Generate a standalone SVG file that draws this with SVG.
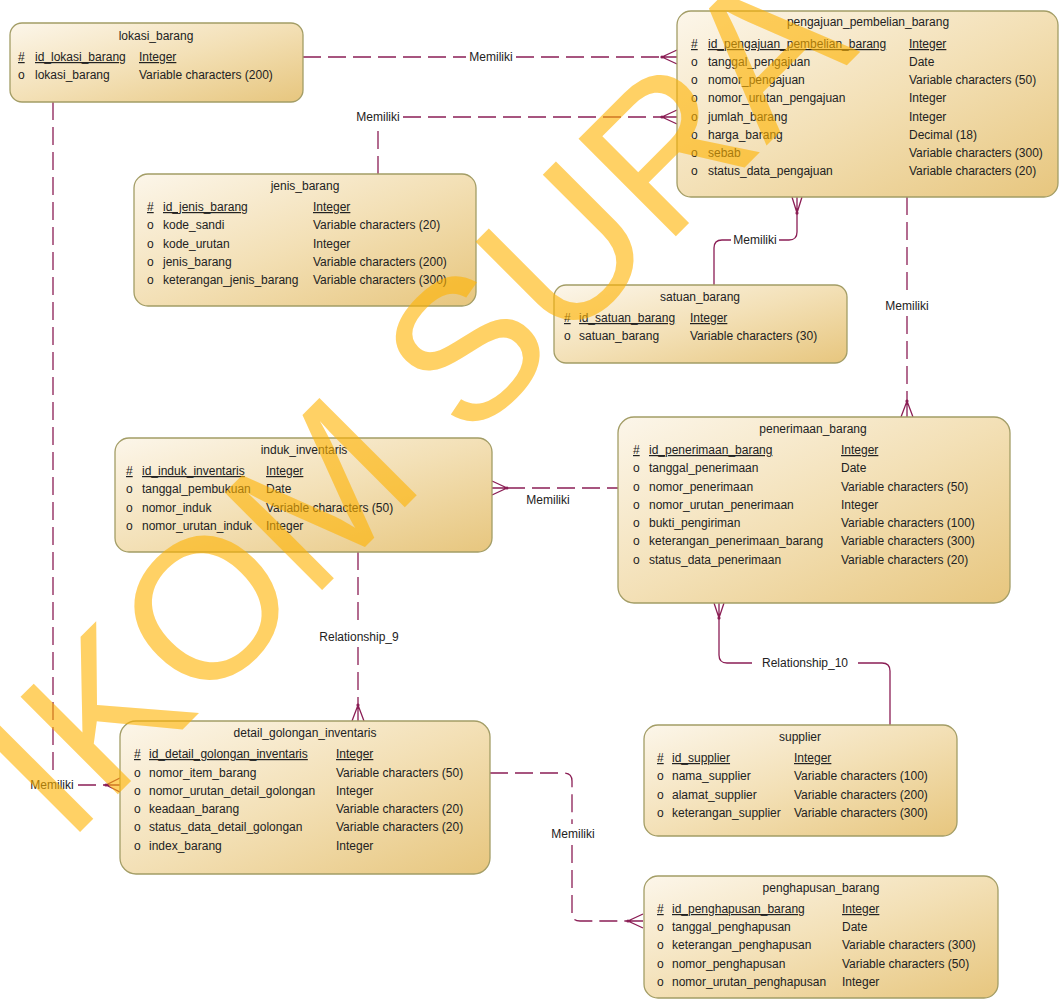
<svg xmlns="http://www.w3.org/2000/svg" width="1060" height="1000" viewBox="0 0 1060 1000">
<defs>
<linearGradient id="g" x1="0" y1="0" x2="1" y2="1">
<stop offset="0" stop-color="#FCF6EA"/>
<stop offset="0.5" stop-color="#F3E0B6"/>
<stop offset="1" stop-color="#E7C67E"/>
</linearGradient>
<style>
.box{fill:url(#g);stroke:#A39D66;stroke-width:1.3}
text{font-family:"Liberation Sans",Arial,sans-serif;font-size:12px;fill:#222}
.t{text-anchor:middle}
.u{text-decoration:underline}
.c{fill:none;stroke:#8B1E55;stroke-width:1.3}
.d{stroke-dasharray:18 7}
.dot{fill:#8B1E55}
.lb{text-anchor:middle;fill:#222}
.wm{font-family:"Liberation Sans",Arial,sans-serif;font-size:200px;fill:#FFB300;opacity:0.6}
</style>
</defs>
<rect width="1060" height="1000" fill="#fff"/>

<g id="connectors">
<path class="c d" d="M303,57 H466 M516,57 H662"/>
<path class="c" d="M677,50 L662,57 L677,64 M662,57 H677"/>
<circle class="dot" cx="662" cy="57" r="1.6"/>
<text class="lb" x="491" y="61">Memiliki</text>

<path class="c d" d="M378,174 V124 M403,117 H662"/>
<path class="c" d="M677,110 L662,117 L677,124 M662,117 H677"/>
<circle class="dot" cx="662" cy="117" r="1.6"/>
<text class="lb" x="378" y="121">Memiliki</text>

<path class="c" d="M792,197 L797,213 L802,197 M797,197 V213"/>
<circle class="dot" cx="797" cy="213" r="1.6"/>
<path class="c" d="M797,213 V232 Q797,240 789,240 H779"/>
<text class="lb" x="755" y="244">Memiliki</text>
<path class="c" d="M731,240 H722 Q714,240 714,248 V285"/>

<path class="c d" d="M907,197 V296 M907,316 V401"/>
<path class="c" d="M901,417 L907,401 L913,417 M907,401 V417"/>
<circle class="dot" cx="907" cy="401" r="1.6"/>
<text class="lb" x="907" y="310">Memiliki</text>

<path class="c" d="M492,481 L507,488 L492,495 M492,488 H507"/>
<circle class="dot" cx="507" cy="488" r="1.6"/>
<path class="c d" d="M507,488 H618"/>
<text class="lb" x="548" y="504">Memiliki</text>

<path class="c d" d="M358,552 V626 M358,647 V705"/>
<path class="c" d="M352,721 L358,705 L364,721 M358,705 V721"/>
<circle class="dot" cx="358" cy="705" r="1.6"/>
<text class="lb" x="359" y="641">Relationship_9</text>

<path class="c" d="M714,603 L719,618 L724,603 M719,603 V618"/>
<circle class="dot" cx="719" cy="618" r="1.6"/>
<path class="c" d="M719,618 V655 Q719,663 727,663 H752 M858,663 H882 Q890,663 890,671 V725"/>
<text class="lb" x="805" y="667">Relationship_10</text>

<path class="c d" d="M490,773 H564 Q572,773 572,781 V824 M572,845 V913 Q572,921 580,921 H628"/>
<path class="c" d="M643,914 L628,921 L643,928 M628,921 H643"/>
<circle class="dot" cx="628" cy="921" r="1.6"/>
<text class="lb" x="573" y="838">Memiliki</text>

<path class="c d" d="M53,102 V775 M78,785 H106"/>
<path class="c" d="M120,778 L106,785 L120,792 M106,785 H120"/>
<circle class="dot" cx="106" cy="785" r="1.6"/>
<text class="lb" x="52" y="789">Memiliki</text>
</g>

<g id="lokasi_barang">
<rect class="box" x="10" y="23" width="293" height="79" rx="12"/>
<text class="t" x="156" y="40">lokasi_barang</text>
<text x="18" y="61" class="u">#</text><text x="35" y="61" class="u">id_lokasi_barang</text><text x="139" y="61" class="u">Integer</text>
<text x="18" y="79">o</text><text x="35" y="79">lokasi_barang</text><text x="139" y="79">Variable characters (200)</text>
</g>

<g id="pengajuan_pembelian_barang">
<rect class="box" x="677" y="11" width="381" height="186" rx="14"/>
<text class="t" x="868" y="26">pengajuan_pembelian_barang</text>
<text x="691" y="48" class="u">#</text><text x="708" y="48" class="u">id_pengajuan_pembelian_barang</text><text x="909" y="48" class="u">Integer</text>
<text x="691" y="66">o</text><text x="708" y="66">tanggal_pengajuan</text><text x="909" y="66">Date</text>
<text x="691" y="84">o</text><text x="708" y="84">nomor_pengajuan</text><text x="909" y="84">Variable characters (50)</text>
<text x="691" y="102">o</text><text x="708" y="102">nomor_urutan_pengajuan</text><text x="909" y="102">Integer</text>
<text x="691" y="121">o</text><text x="708" y="121">jumlah_barang</text><text x="909" y="121">Integer</text>
<text x="691" y="139">o</text><text x="708" y="139">harga_barang</text><text x="909" y="139">Decimal (18)</text>
<text x="691" y="157">o</text><text x="708" y="157">sebab</text><text x="909" y="157">Variable characters (300)</text>
<text x="691" y="175">o</text><text x="708" y="175">status_data_pengajuan</text><text x="909" y="175">Variable characters (20)</text>
</g>

<g id="jenis_barang">
<rect class="box" x="134" y="174" width="342" height="132" rx="14"/>
<text class="t" x="305" y="190">jenis_barang</text>
<text x="147" y="211" class="u">#</text><text x="163" y="211" class="u">id_jenis_barang</text><text x="313" y="211" class="u">Integer</text>
<text x="147" y="229">o</text><text x="163" y="229">kode_sandi</text><text x="313" y="229">Variable characters (20)</text>
<text x="147" y="248">o</text><text x="163" y="248">kode_urutan</text><text x="313" y="248">Integer</text>
<text x="147" y="266">o</text><text x="163" y="266">jenis_barang</text><text x="313" y="266">Variable characters (200)</text>
<text x="147" y="284">o</text><text x="163" y="284">keterangan_jenis_barang</text><text x="313" y="284">Variable characters (300)</text>
</g>

<g id="satuan_barang">
<rect class="box" x="554" y="285" width="293" height="78" rx="12"/>
<text class="t" x="700" y="301">satuan_barang</text>
<text x="564" y="322" class="u">#</text><text x="579" y="322" class="u">id_satuan_barang</text><text x="690" y="322" class="u">Integer</text>
<text x="564" y="340">o</text><text x="579" y="340">satuan_barang</text><text x="690" y="340">Variable characters (30)</text>
</g>

<g id="induk_inventaris">
<rect class="box" x="115" y="438" width="377" height="114" rx="14"/>
<text class="t" x="304" y="454">induk_inventaris</text>
<text x="126" y="475" class="u">#</text><text x="142" y="475" class="u">id_induk_inventaris</text><text x="266" y="475" class="u">Integer</text>
<text x="126" y="493">o</text><text x="142" y="493">tanggal_pembukuan</text><text x="266" y="493">Date</text>
<text x="126" y="512">o</text><text x="142" y="512">nomor_induk</text><text x="266" y="512">Variable characters (50)</text>
<text x="126" y="530">o</text><text x="142" y="530">nomor_urutan_induk</text><text x="266" y="530">Integer</text>
</g>

<g id="penerimaan_barang">
<rect class="box" x="618" y="417" width="392" height="186" rx="16"/>
<text class="t" x="813" y="433">penerimaan_barang</text>
<text x="633" y="454" class="u">#</text><text x="649" y="454" class="u">id_penerimaan_barang</text><text x="841" y="454" class="u">Integer</text>
<text x="633" y="472">o</text><text x="649" y="472">tanggal_penerimaan</text><text x="841" y="472">Date</text>
<text x="633" y="491">o</text><text x="649" y="491">nomor_penerimaan</text><text x="841" y="491">Variable characters (50)</text>
<text x="633" y="509">o</text><text x="649" y="509">nomor_urutan_penerimaan</text><text x="841" y="509">Integer</text>
<text x="633" y="527">o</text><text x="649" y="527">bukti_pengiriman</text><text x="841" y="527">Variable characters (100)</text>
<text x="633" y="545">o</text><text x="649" y="545">keterangan_penerimaan_barang</text><text x="841" y="545">Variable characters (300)</text>
<text x="633" y="564">o</text><text x="649" y="564">status_data_penerimaan</text><text x="841" y="564">Variable characters (20)</text>
</g>

<g id="detail_golongan_inventaris">
<rect class="box" x="120" y="721" width="370" height="153" rx="16"/>
<text class="t" x="305" y="737">detail_golongan_inventaris</text>
<text x="134" y="758" class="u">#</text><text x="149" y="758" class="u">id_detail_golongan_inventaris</text><text x="336" y="758" class="u">Integer</text>
<text x="134" y="777">o</text><text x="149" y="777">nomor_item_barang</text><text x="336" y="777">Variable characters (50)</text>
<text x="134" y="795">o</text><text x="149" y="795">nomor_urutan_detail_golongan</text><text x="336" y="795">Integer</text>
<text x="134" y="813">o</text><text x="149" y="813">keadaan_barang</text><text x="336" y="813">Variable characters (20)</text>
<text x="134" y="831">o</text><text x="149" y="831">status_data_detail_golongan</text><text x="336" y="831">Variable characters (20)</text>
<text x="134" y="850">o</text><text x="149" y="850">index_barang</text><text x="336" y="850">Integer</text>
</g>

<g id="supplier">
<rect class="box" x="644" y="725" width="313" height="111" rx="14"/>
<text class="t" x="800" y="741">supplier</text>
<text x="657" y="762" class="u">#</text><text x="672" y="762" class="u">id_supplier</text><text x="794" y="762" class="u">Integer</text>
<text x="657" y="780">o</text><text x="672" y="780">nama_supplier</text><text x="794" y="780">Variable characters (100)</text>
<text x="657" y="799">o</text><text x="672" y="799">alamat_supplier</text><text x="794" y="799">Variable characters (200)</text>
<text x="657" y="817">o</text><text x="672" y="817">keterangan_supplier</text><text x="794" y="817">Variable characters (300)</text>
</g>

<g id="penghapusan_barang">
<rect class="box" x="644" y="876" width="354" height="122" rx="14"/>
<text class="t" x="821" y="892">penghapusan_barang</text>
<text x="657" y="913" class="u">#</text><text x="672" y="913" class="u">id_penghapusan_barang</text><text x="842" y="913" class="u">Integer</text>
<text x="657" y="931">o</text><text x="672" y="931">tanggal_penghapusan</text><text x="842" y="931">Date</text>
<text x="657" y="949">o</text><text x="672" y="949">keterangan_penghapusan</text><text x="842" y="949">Variable characters (300)</text>
<text x="657" y="968">o</text><text x="672" y="968">nomor_penghapusan</text><text x="842" y="968">Variable characters (50)</text>
<text x="657" y="986">o</text><text x="672" y="986">nomor_urutan_penghapusan</text><text x="842" y="986">Integer</text>
</g>

<g id="watermark">
<text class="wm" transform="translate(67,845) rotate(-45)">IKOM SURA</text>
</g>
</svg>
